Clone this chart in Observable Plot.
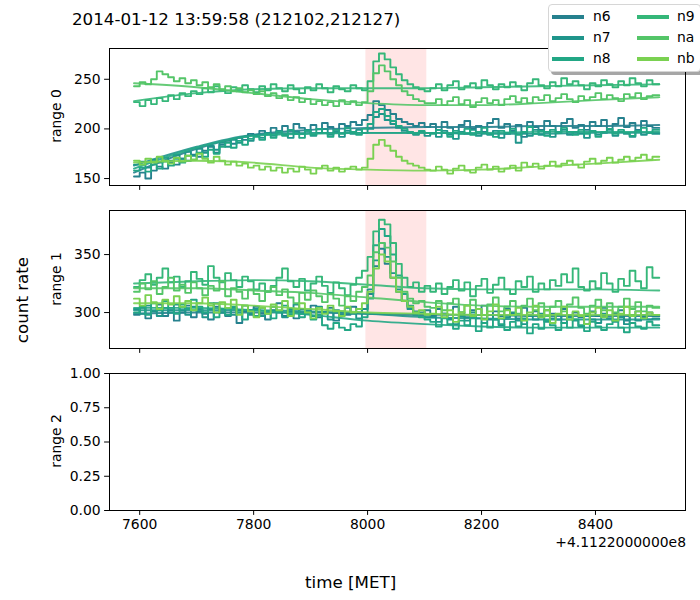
<!DOCTYPE html>
<html><head><meta charset="utf-8">
<script src="https://cdn.jsdelivr.net/npm/d3@7"></script>
<script src="https://cdn.jsdelivr.net/npm/@observablehq/plot@0.6"></script>
<style>
body{margin:0;background:#fff;}
#fig{position:relative;width:700px;height:600px;font-family:"DejaVu Sans",sans-serif;overflow:hidden;background:#fff;}
#fig svg{position:absolute;left:0;}
.txt{position:absolute;white-space:nowrap;color:#000;line-height:1;}
.vlab{position:absolute;white-space:nowrap;transform:translate(-50%,-50%) rotate(-90deg);line-height:1;}
#legend{position:absolute;left:548px;top:4px;width:151px;height:66px;background:#fff;border:1px solid #d6d6d6;border-radius:4px;box-shadow:3px 3px 0 rgba(0,0,0,0.35);}
.lg{position:absolute;height:4px;width:32px;}
.lt{position:absolute;font-size:13.9px;line-height:1;}
</style></head><body>
<div id="fig"></div>
<script>
const detectors = ["n6","n7","n8","n9","na","nb"];
const colors = ["#26818e","#1f958b","#22a785","#35b779","#54c568","#7ad151"];
const titleText = "2014-01-12 13:59:58 (212102,212127)";
const binStart = 7590, binWidth = 10, tEnd = 8512;
const xTicks = [7600,7800,8000,8200,8400];
const burstStart = [7997], burstEnd = [8104];
const fitKnots = [7590,7700,7800,7900,8000,8100,8200,8300,8400,8512];

// range 0 counts (10 s bins from 7590)
const r0_n6 = [152,156,150,158,162,160,166,164,170,168,174,172,178,182,176,184,188,185,191,189,195,
 193,198,196,201,197,203,199,205,201,198,204,200,206,202,199,205,203,207,204,209,
 214,228,224,219,215,210,207,205,203,206,202,
 205,199,207,201,196,204,208,200,203,197,206,210,201,205,198,204,192,207,202,199,
 208,203,197,206,210,201,204,199,207,203,209,200,205,211,202,206,199,208,203,201];
const r0_n7 = [164,167,161,169,166,171,168,174,170,177,173,180,176,183,179,186,182,189,186,192,188,
 194,191,196,193,198,194,191,197,195,199,193,196,200,194,197,192,198,195,199,196,
 200,212,215,209,205,201,198,196,194,197,193,
 196,192,198,194,190,197,195,199,193,196,194,198,191,195,197,186,196,193,199,194,
 197,192,196,199,194,197,195,191,198,194,196,199,193,197,195,192,198,194,196,195];
const r0_n8 = [158,161,157,164,160,167,163,170,166,173,169,176,172,179,175,182,186,181,188,184,190,
 192,189,195,191,197,193,199,195,191,198,194,200,196,192,199,195,201,197,194,200,
 205,217,220,213,208,203,200,197,195,198,196,
 195,199,196,192,198,195,200,194,197,201,195,192,198,196,200,194,197,202,195,198,
 193,199,196,201,197,194,199,195,198,192,197,200,195,199,196,193,198,201,196,199];
const r0_n9 = [227,223,229,225,231,228,234,230,236,233,238,235,241,237,243,239,236,242,238,244,240,
 237,243,239,245,241,238,244,240,236,242,239,245,241,237,243,240,238,244,241,239,
 248,268,276,270,262,255,249,245,242,240,238,
 241,245,239,244,248,240,243,246,241,249,244,240,245,242,247,243,239,246,250,244,
 241,247,243,251,245,248,244,240,246,243,249,245,242,248,244,251,246,243,249,245];
const r0_na = [243,247,245,250,258,255,252,248,251,246,249,244,247,242,245,240,243,238,241,237,239,
 235,238,233,236,231,234,229,232,227,230,225,228,224,227,223,229,225,228,224,227,
 238,256,264,258,250,244,238,234,230,228,226,
 226,230,224,228,232,225,229,222,227,231,226,229,224,230,233,227,231,226,232,229,
 234,228,231,235,230,227,233,229,232,236,230,234,231,228,235,232,236,230,233,234];
const r0_nb = [168,164,170,166,172,168,165,171,167,173,169,175,170,166,172,168,164,167,163,165,161,
 163,159,162,158,161,156,160,157,162,159,155,160,163,158,161,157,160,162,159,161,
 170,184,189,183,178,172,168,165,163,161,159,
 158,162,159,155,160,163,158,156,161,164,159,162,157,160,163,158,166,162,165,160,
 163,167,162,165,168,164,161,167,170,165,168,171,166,169,172,168,171,174,169,172];
// range 0 background fits at fitKnots
const f0_n6 = [156,180,194,199,201,202,202,203,203,204];
const f0_n7 = [163,182,194,196,196,196,195,195,196,196];
const f0_n8 = [160,181,193,195,196,196,196,197,197,197];
const f0_n9 = [228,236,240,241,241,241,242,243,244,245];
const f0_na = [246,242,236,230,226,224,224,226,229,232];
const f0_nb = [166,168,166,161,159,158,159,162,165,169];

// range 1 counts
const r1_n6 = [298,304,295,301,307,297,302,293,300,306,296,303,299,294,305,300,297,304,291,301,298,
 305,299,294,302,308,297,301,295,303,299,306,296,300,304,293,301,298,305,300,303,
 316,340,355,342,330,318,310,305,301,298,302,
 297,303,299,295,305,300,296,302,298,306,294,301,297,303,299,295,304,298,301,296,
 302,299,294,303,298,300,296,290,301,297,304,295,299,302,293,298,301,296,300,297];
const r1_n7 = [303,299,306,301,297,304,300,307,302,298,305,301,296,303,308,300,304,298,302,306,299,
 303,297,301,305,300,296,303,307,299,302,297,305,300,294,302,298,304,299,295,303,
 320,345,360,348,334,320,310,303,298,300,296,
 296,292,299,294,290,297,293,300,295,291,298,294,289,296,300,293,290,297,294,299,
 292,295,298,291,296,293,288,297,294,291,299,295,292,296,290,297,293,298,294,295];
const r1_n8 = [300,305,298,308,302,310,304,299,307,303,311,305,300,308,296,303,298,305,300,294,302,
 297,304,299,295,301,306,298,303,296,300,294,298,289,286,291,287,285,290,288,296,
 312,358,372,366,350,332,316,306,300,296,294,
 292,288,295,290,286,293,289,296,284,291,287,294,290,285,292,288,295,282,290,286,
 293,289,285,291,287,294,289,284,292,288,285,290,293,287,283,291,288,286,292,289];
const r1_n9 = [322,328,333,324,330,338,326,331,322,327,335,329,324,340,330,326,334,328,322,331,327,
 320,325,318,323,330,338,327,322,329,319,325,331,323,317,326,321,315,324,330,336,
 348,370,380,376,360,342,330,322,326,318,323,
 318,325,316,322,328,319,326,314,323,329,317,324,330,320,316,327,322,331,318,325,
 320,328,323,333,326,338,322,319,327,321,334,325,318,329,323,336,327,321,339,330];
const r1_na = [318,325,320,327,316,322,330,319,324,317,326,321,315,323,319,327,314,321,318,312,320,
 316,310,318,322,315,320,313,308,317,311,319,314,309,316,312,306,314,310,318,322,
 332,352,360,356,344,330,318,312,308,310,305,
 304,310,302,308,312,300,306,311,303,298,307,313,301,305,310,299,306,312,302,308,
 297,305,310,301,307,313,304,299,306,311,302,308,300,305,312,303,309,301,306,304];
const r1_nb = [312,306,315,309,303,311,307,314,305,310,302,308,313,306,300,309,304,311,298,306,301,
 296,304,299,307,302,310,297,303,308,300,295,304,299,306,301,297,305,300,303,308,
 318,338,350,344,330,318,310,305,300,302,298,
 299,305,296,302,292,300,306,297,303,294,301,307,295,302,298,304,293,300,306,296,
 302,291,299,305,294,301,297,290,300,304,296,302,293,299,305,297,301,295,300,298];
const f1_n6 = [299,300,300,300,299,298,298,297,297,297];
const f1_n7 = [302,302,302,301,299,296,295,294,294,294];
const f1_n8 = [304,304,302,298,293,290,288,287,287,287];
const f1_n9 = [325,327,328,327,324,321,320,320,320,319];
const f1_na = [321,321,319,317,313,309,306,305,305,305];
const f1_nb = [308,308,306,303,300,299,298,298,298,298];

const range0 = [r0_n6,r0_n7,r0_n8,r0_n9,r0_na,r0_nb];
const fits0 = [f0_n6,f0_n7,f0_n8,f0_n9,f0_na,f0_nb];
const range1 = [r1_n6,r1_n7,r1_n8,r1_n9,r1_na,r1_nb];
const fits1 = [f1_n6,f1_n7,f1_n8,f1_n9,f1_na,f1_nb];

const fig = document.getElementById("fig");
const FONT = "DejaVu Sans, sans-serif";

function panel({top, height, mt, mb, dom, yt, fmt, steps, fits, xLabels, burst}) {
  const marks = [];
  if (burst) {
    const br = burstStart.map((s,i)=>({x1:s, x2:burstEnd[i], y1:dom[0], y2:dom[1]}));
    marks.push(Plot.rect(br, {x1:"x1", x2:"x2", y1:"y1", y2:"y2", fill:"red", fillOpacity:0.1}));
  }
  if (steps) {
    detectors.forEach((d,i)=>{
      const vals = steps[i];
      const rows = vals.map((v,k)=>({t: binStart + k*binWidth, v}));
      rows.push({t: tEnd, v: vals[vals.length-1]});
      marks.push(Plot.line(rows, {x:"t", y:"v", curve:"step-after", stroke:colors[i], strokeWidth:1.9}));
      const fr = fitKnots.map((t,k)=>({t, v: fits[i][k]}));
      marks.push(Plot.line(fr, {x:"t", y:"v", curve:"monotone-x", stroke:colors[i], strokeWidth:1.9, strokeOpacity:0.9}));
    });
  }
  marks.push(Plot.frame({stroke:"black", strokeWidth:1}));
  marks.push(Plot.axisX({ticks:xTicks, tickSize:4.9, tickPadding:4, tickFormat: xLabels ? d3.format("d") : () => "", label:null}));
  marks.push(Plot.axisY({ticks:yt, tickSize:4.9, tickPadding:4, tickFormat: fmt, label:null}));
  const svg = Plot.plot({
    width:700, height, marginTop:mt, marginBottom:mb, marginLeft:109, marginRight:15,
    x:{domain:[7547,8558]}, y:{domain:dom},
    style:{background:"transparent", fontFamily:FONT, fontSize:"13.9px", color:"black", overflow:"visible"},
    marks
  });
  svg.style.top = top + "px";
  svg.style.position = "absolute";
  svg.style.maxWidth = "none";
  fig.appendChild(svg);
}

panel({top:0, height:200, mt:48, mb:15, dom:[143,281], yt:[150,200,250], fmt:d3.format("d"), steps:range0, fits:fits0, xLabels:false, burst:true});
panel({top:195, height:170, mt:15, mb:17, dom:[269,388], yt:[300,350], fmt:d3.format("d"), steps:range1, fits:fits1, xLabels:false, burst:true});
panel({top:358, height:200, mt:15, mb:48, dom:[0,1], yt:[0,0.25,0.5,0.75,1], fmt:d3.format(".2f"), steps:null, fits:null, xLabels:true, burst:false});

function addText(html, css, cls="txt") {
  const el = document.createElement("div");
  el.className = cls;
  el.textContent = html;
  Object.assign(el.style, css);
  fig.appendChild(el);
  return el;
}
addText(titleText, {left:"72px", top:"11px", fontSize:"16.7px"});
addText("count rate", {left:"22px", top:"300px", fontSize:"16.7px"}, "vlab");
addText("range 0", {left:"57px", top:"116px", fontSize:"13.9px"}, "vlab");
addText("range 1", {left:"57px", top:"279px", fontSize:"13.9px"}, "vlab");
addText("range 2", {left:"57px", top:"441px", fontSize:"13.9px"}, "vlab");
addText("time [MET]", {left:"305px", top:"574px", fontSize:"16.7px"});
const off = addText("+4.1122000000e8", {top:"536px", fontSize:"13.9px"});
off.style.right = (700-686) + "px";

const lg = document.createElement("div");
lg.id = "legend";
fig.appendChild(lg);
detectors.forEach((d,i)=>{
  const col = Math.floor(i/3), row = i%3;
  const line = document.createElement("div");
  line.className = "lg";
  line.style.background = colors[i];
  line.style.left = (3 + col*85) + "px";
  line.style.top = (10 + row*21) + "px";
  lg.appendChild(line);
  const t = document.createElement("div");
  t.className = "lt";
  t.textContent = d;
  t.style.left = (44 + col*84) + "px";
  t.style.top = (5 + row*21) + "px";
  lg.appendChild(t);
});
</script>
</body></html>
